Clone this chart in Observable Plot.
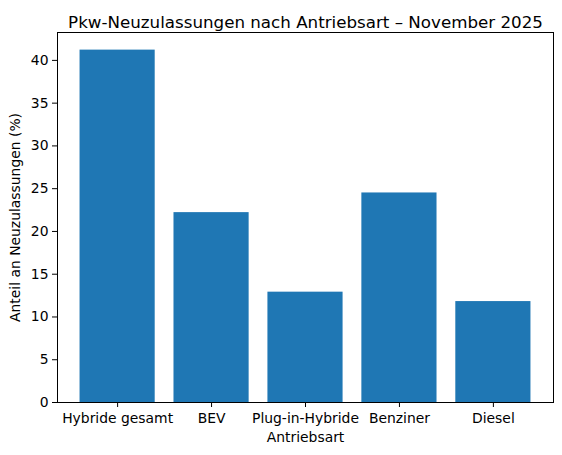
<!DOCTYPE html>
<html>
<head>
<meta charset="utf-8">
<script src="https://cdn.jsdelivr.net/npm/d3@7"></script>
<script src="https://cdn.jsdelivr.net/npm/@observablehq/plot@0.6"></script>
<style>
  body { margin: 0; background: #fff; }
  #chart svg { font-family: "DejaVu Sans", sans-serif; }
</style>
</head>
<body>
<div id="chart"></div>
<script>
// Pkw-Neuzulassungen, Anteile in %
const antriebsarten = ["Hybride gesamt", "BEV", "Plug-in-Hybride", "Benziner", "Diesel"];
const anteile = [41.2, 22.2, 12.9, 24.5, 11.8];
const yTicks = [0, 5, 10, 15, 20, 25, 30, 35, 40];

const data = antriebsarten.map((a, i) => ({ art: a, anteil: anteile[i] }));

const chart = Plot.plot({
    width: 562,
    height: 455,
    marginTop: 32,
    marginBottom: 53,
    marginLeft: 57,
    marginRight: 9,
    style: { fontSize: '13.9px', fontFamily: '"DejaVu Sans", sans-serif', color: '#000', background: '#fff' },
    x: {
        domain: antriebsarten,
        paddingInner: 0.2,
        paddingOuter: 0.24,
        round: false,
    },
    y: {
        domain: [0, 43.26],
    },
    marks: [
        Plot.barY(data, { x: 'art', y: 'anteil', fill: '#1f77b4' }),
        Plot.frame({ stroke: '#000', strokeWidth: 1 }),
        Plot.axisX({
            tickSize: 5,
            tickPadding: 6,
            label: 'Antriebsart',
            labelAnchor: 'center',
            labelArrow: 'none',
            labelOffset: 39,
        }),
        Plot.axisY({
            ticks: yTicks,
            tickSize: 5,
            tickPadding: 4,
            label: 'Anteil an Neuzulassungen (%)',
            labelAnchor: 'center',
            labelArrow: 'none',
            labelOffset: 47,
        }),
        Plot.text(['Pkw-Neuzulassungen nach Antriebsart – November 2025'], {
            frameAnchor: 'top',
            dy: -16,
            fontSize: 16.7,
            fill: '#000',
        }),
    ],
});

document.getElementById('chart').appendChild(chart);
</script>
</body>
</html>
